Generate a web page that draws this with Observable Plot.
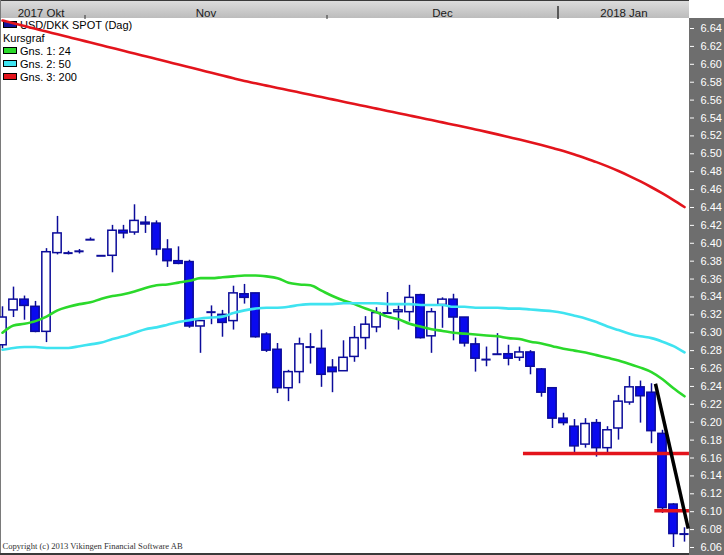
<!DOCTYPE html>
<html>
<head>
<meta charset="utf-8">
<script src="https://cdn.jsdelivr.net/npm/d3@7"></script>
<script src="https://cdn.jsdelivr.net/npm/@observablehq/plot@0.6"></script>
<style>
  html, body { margin: 0; padding: 0; background: #fff; }
  #wrap { position: relative; width: 724px; height: 555px; overflow: hidden; font-family: "Liberation Sans", Arial, sans-serif; }
  #topbar { position: absolute; left: 0; top: 0; width: 689px; height: 18px; box-sizing: border-box;
            background: linear-gradient(#dcdcdc, #bcbcbc); border-top: 1px solid #3a3a3a; }
  #rightpanel { position: absolute; left: 689px; top: 18px; width: 35px; height: 537px; background: #6e6e6e; }
  #leftborder { position: absolute; left: 0; top: 0; width: 1px; height: 555px; background: #7a7a7a; }
  #bottomborder { position: absolute; left: 0; top: 553px; width: 689px; height: 2px; background: #3a3a3a; }
  #legend { position: absolute; left: 0; top: 0; width: 200px; height: 100px; font-size: 11px; color: #000; }
  #legend .row { position: absolute; left: 3px; height: 13px; line-height: 13px; white-space: nowrap; }
  #legend .sw { display: inline-block; width: 12px; height: 5px; border: 1px solid #000; margin-right: 3px; vertical-align: 1px; }
  #chart { position: absolute; left: 0; top: 0; }
</style>
</head>
<body>
<div id="wrap">
  <div id="topbar"></div>
  <div id="rightpanel"></div>
  <div id="leftborder"></div>
  <div id="bottomborder"></div>
  <div id="legend"></div>
  <div id="chart"></div>
</div>
<script>
// ---- Data ----
const dates = [
  "2017-10-20","2017-10-23","2017-10-24","2017-10-25","2017-10-26","2017-10-27","2017-10-30","2017-10-31",
  "2017-11-01","2017-11-02","2017-11-03","2017-11-06","2017-11-07","2017-11-08","2017-11-09","2017-11-10",
  "2017-11-13","2017-11-14","2017-11-15","2017-11-16","2017-11-17","2017-11-20","2017-11-21","2017-11-22",
  "2017-11-23","2017-11-24","2017-11-27","2017-11-28","2017-11-29","2017-11-30",
  "2017-12-01","2017-12-04","2017-12-05","2017-12-06","2017-12-07","2017-12-08","2017-12-11","2017-12-12",
  "2017-12-13","2017-12-14","2017-12-15","2017-12-18","2017-12-19","2017-12-20","2017-12-21","2017-12-22",
  "2017-12-25","2017-12-26","2017-12-27","2017-12-28","2017-12-29",
  "2018-01-01","2018-01-02","2018-01-03","2018-01-04","2018-01-05","2018-01-08","2018-01-09","2018-01-10",
  "2018-01-11","2018-01-12","2018-01-15","2018-01-16"
];
const open = [6.286,6.325,6.337,6.329,6.301,6.389,6.389,6.391,6.404,6.386,6.386,6.414,6.412,6.423,6.422,6.393,
  6.380,6.379,6.307,6.323,6.320,6.313,6.343,6.344,6.298,6.281,6.238,6.256,6.284,6.282,6.261,6.257,6.273,6.294,
  6.306,6.322,6.323,6.323,6.342,6.296,6.331,6.337,6.317,6.287,6.270,6.276,6.276,6.272,6.278,6.259,6.238,6.204,
  6.195,6.175,6.199,6.171,6.193,6.222,6.239,6.233,6.187,6.108,6.075];
const high = [6.329,6.351,6.341,6.335,6.394,6.430,6.391,6.393,6.406,6.386,6.420,6.420,6.443,6.430,6.425,6.404,
  6.396,6.381,6.313,6.330,6.325,6.352,6.354,6.344,6.300,6.288,6.258,6.294,6.299,6.303,6.270,6.291,6.307,6.318,
  6.328,6.345,6.330,6.353,6.343,6.327,6.339,6.343,6.317,6.294,6.284,6.299,6.286,6.284,6.280,6.260,6.238,6.210,
  6.203,6.204,6.203,6.195,6.230,6.251,6.246,6.243,6.191,6.109,6.082];
const low = [6.282,6.317,6.314,6.300,6.289,6.387,6.387,6.388,6.403,6.386,6.367,6.405,6.409,6.411,6.386,6.373,
  6.376,6.305,6.277,6.309,6.295,6.303,6.332,6.294,6.278,6.232,6.223,6.243,6.265,6.239,6.233,6.257,6.267,6.281,
  6.300,6.321,6.303,6.312,6.293,6.277,6.305,6.291,6.284,6.256,6.262,6.275,6.263,6.268,6.253,6.228,6.193,6.196,
  6.164,6.171,6.161,6.164,6.180,6.219,6.199,6.176,6.098,6.060,6.066];
const close = [6.317,6.337,6.330,6.301,6.390,6.411,6.389,6.391,6.404,6.386,6.414,6.411,6.425,6.421,6.393,6.380,
  6.377,6.307,6.313,6.323,6.311,6.344,6.339,6.295,6.280,6.238,6.256,6.287,6.284,6.253,6.256,6.272,6.294,6.309,
  6.322,6.322,6.325,6.339,6.294,6.323,6.337,6.317,6.288,6.271,6.270,6.276,6.271,6.278,6.262,6.233,6.204,6.199,
  6.173,6.198,6.171,6.191,6.223,6.239,6.229,6.190,6.104,6.075,6.075];

// Moving averages (Gns. 1: 24, Gns. 2: 50, Gns. 3: 200)
const ma24 = [6.300,6.308,6.310,6.313,6.318,6.325,6.329,6.332,6.334,6.338,6.341,6.343,6.346,6.350,6.353,6.354,
  6.356,6.358,6.361,6.361,6.362,6.363,6.364,6.364,6.363,6.361,6.356,6.354,6.353,6.347,6.341,6.336,6.332,6.327,
  6.323,6.318,6.315,6.310,6.307,6.304,6.302,6.300,6.299,6.298,6.297,6.296,6.294,6.293,6.290,6.288,6.285,6.282,
  6.280,6.278,6.275,6.272,6.269,6.265,6.261,6.256,6.248,6.238,6.229];
const ma50 = [6.281,6.283,6.284,6.284,6.283,6.283,6.283,6.285,6.287,6.289,6.293,6.296,6.300,6.304,6.306,6.309,
  6.312,6.314,6.316,6.317,6.318,6.322,6.325,6.327,6.328,6.328,6.329,6.331,6.332,6.332,6.332,6.333,6.333,6.333,
  6.333,6.332,6.332,6.332,6.331,6.331,6.331,6.329,6.329,6.328,6.328,6.328,6.327,6.327,6.326,6.325,6.324,6.322,
  6.319,6.316,6.312,6.307,6.303,6.299,6.296,6.294,6.290,6.285,6.278];
const ma200 = [6.6489,6.6459,6.6428,6.6397,6.6366,6.6336,6.6305,6.6274,6.6244,6.6213,6.6182,6.6151,6.6121,
  6.6090,6.6059,6.6028,6.5998,6.5967,6.5936,6.5906,6.5875,6.5844,6.5813,6.5788,6.5762,6.5736,6.5711,6.5685,
  6.5659,6.5634,6.5608,6.5582,6.5556,6.5531,6.5505,6.5479,6.5454,6.5428,6.5402,6.5377,6.5351,6.5325,6.5299,
  6.5272,6.5245,6.5217,6.5188,6.5159,6.5129,6.5098,6.5065,6.5031,6.4993,6.4951,6.4907,6.4859,6.4807,6.4751,
  6.4691,6.4626,6.4557,6.4483,6.4405];

const yTicks = [6.06,6.08,6.10,6.12,6.14,6.16,6.18,6.20,6.22,6.24,6.26,6.28,6.30,6.32,6.34,6.36,
  6.38,6.40,6.42,6.44,6.46,6.48,6.50,6.52,6.54,6.56,6.58,6.60,6.62,6.64];
const monthKeys = ["2017-10","2017-11","2017-12","2018-01"];
const monthLabels = ["2017 Okt","Nov","Dec","2018 Jan"];

const seriesNames = ["Gns. 1: 24","Gns. 2: 50","Gns. 3: 200"];
const seriesColors = ["#2bd92b","#3fe3f0","#e3141c"];
const instrumentName = "USD/DKK SPOT (Dag)";
const chartTypeName = "Kursgraf";
const copyrightText = "Copyright (c) 2013 Vikingen Financial Software AB";

// Drawn annotations (support lines and trend line), in index / price units
const hLineFrom = [47.36, 59.3];
const hLineTo = [62.45, 62.45];
const hLineLevel = [6.165, 6.101];
const trendStart = [59.36, 6.243];
const trendEnd = [62.34, 6.081];

// ---- Build tables ----
const candles = dates.map((d, i) => ({i, date: d, open: open[i], high: high[i], low: low[i], close: close[i]}));
const bodies = candles.filter(c => Math.abs(c.open - c.close) >= 0.0005);
const dojis = candles.filter(c => Math.abs(c.open - c.close) < 0.0005);
const maSeries = [ma24, ma50, ma200].map((arr, k) => arr.map((v, i) => ({i, v, s: seriesNames[k]})));
const months = monthKeys.map((k, j) => {
  const idx = candles.filter(c => c.date.startsWith(k)).map(c => c.i);
  return {label: monthLabels[j], center: d3.mean(idx), start: d3.min(idx), year: k.slice(0, 4)};
});
const monthBounds = months.slice(1).filter((m, j) => m.year === months[j].year).map(m => m.start - 0.5);
const yearBounds = months.slice(1).filter((m, j) => m.year !== months[j].year).map(m => m.start - 0.5);
const hLines = hLineLevel.map((y, k) => ({x1: hLineFrom[k], x2: hLineTo[k], y}));
const trend = [{x1: trendStart[0], y1: trendStart[1], x2: trendEnd[0], y2: trendEnd[1]}];

const navy = "#0c0c9a";
const blue = "#0a0aef";
const hw = 0.38;

const chart = Plot.plot({
  width: 724,
  height: 555,
  marginLeft: 0,
  marginRight: 35,
  marginTop: 18,
  marginBottom: 3,
  style: {background: "transparent", fontFamily: "Liberation Sans, Arial, sans-serif", fontSize: "11px", overflow: "visible"},
  x: {type: "linear", domain: [-2 / 11, 687 / 11], axis: null},
  y: {domain: [6.0544, 6.6512], axis: null},
  marks: [
    // wicks
    Plot.ruleX(candles, {x: "i", y1: "low", y2: "high", stroke: navy, strokeWidth: 1.5, clip: true}),
    // bodies
    Plot.rect(bodies, {
      x1: d => d.i - hw, x2: d => d.i + hw, y1: "open", y2: "close",
      fill: d => d.close > d.open ? "#ffffff" : blue,
      stroke: navy, strokeWidth: 1.5, clip: true
    }),
    // doji crosses
    Plot.ruleY(dojis, {x1: d => d.i - hw - 0.04, x2: d => d.i + hw + 0.04, y: "close", stroke: navy, strokeWidth: 2}),
    // moving averages
    ...maSeries.map((s, k) => Plot.line(s, {x: "i", y: "v", stroke: seriesColors[k], strokeWidth: 2.6, curve: "monotone-x", clip: true})),
    // support lines
    Plot.ruleY(hLines, {x1: "x1", x2: "x2", y: "y", stroke: "#e3141c", strokeWidth: 3.5}),
    // trend line
    Plot.link(trend, {x1: "x1", y1: "y1", x2: "x2", y2: "y2", stroke: "#000", strokeWidth: 3.5}),
    // right price axis
    Plot.axisY({anchor: "right", ticks: yTicks, tickFormat: d3.format(".2f"), tickSize: 4, tickPadding: 7, color: "#ffffff", label: null, fontSize: 11}),
    // month boundary ticks in the top bar
    Plot.axisX({anchor: "top", ticks: monthBounds, tickSize: 4, tickFormat: () => "", color: "#333", label: null}),
    Plot.axisX({anchor: "top", ticks: yearBounds, tickSize: 13, tickFormat: () => "", color: "#333", strokeWidth: 1.5, label: null}),
    // month labels
    Plot.text(months, {x: "center", text: "label", frameAnchor: "top", dy: -10, fill: "#1a1a1a", fontSize: 11.5}),
    // copyright
    Plot.text([copyrightText], {text: d => d, frameAnchor: "bottom-left", dx: 2, dy: -4, textAnchor: "start",
      fontFamily: "Liberation Serif, Times New Roman, serif", fontSize: 8.6, fill: "#333"})
  ]
});
document.getElementById("chart").appendChild(chart);

// ---- Legend (top-left, inside the plot area) ----
const legend = document.getElementById("legend");
const rows = [
  {label: instrumentName, color: "#14149a", sw: true},
  {label: chartTypeName, sw: false},
  ...seriesNames.map((n, k) => ({label: n, color: seriesColors[k], sw: true}))
];
rows.forEach((r, k) => {
  const div = document.createElement("div");
  div.className = "row";
  div.style.top = (19 + k * 13) + "px";
  if (r.sw) {
    const sw = document.createElement("span");
    sw.className = "sw";
    sw.style.background = r.color;
    div.appendChild(sw);
  }
  div.appendChild(document.createTextNode(r.label));
  legend.appendChild(div);
});
</script>
</body>
</html>
